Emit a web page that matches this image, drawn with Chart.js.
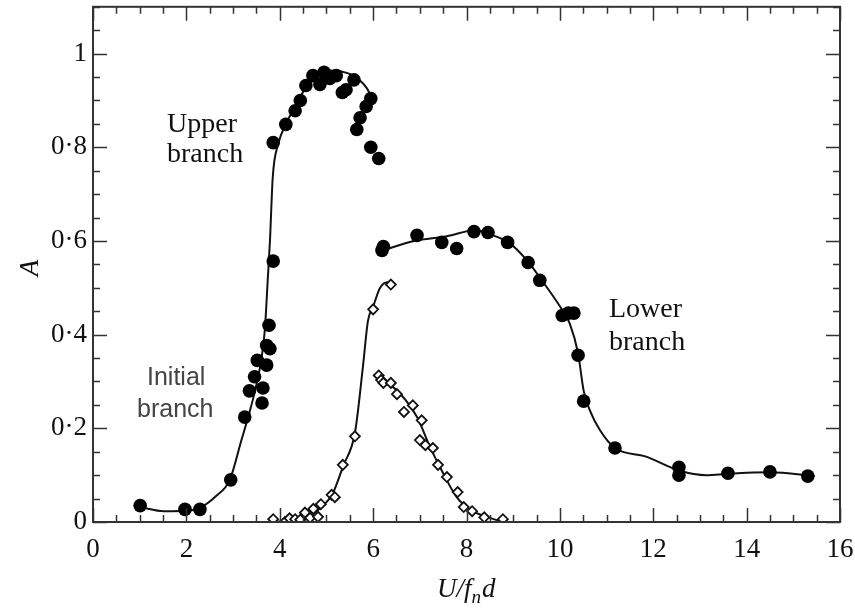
<!DOCTYPE html>
<html>
<head>
<meta charset="utf-8">
<script src="https://cdn.jsdelivr.net/npm/chart.js@4.4.1/dist/chart.umd.min.js"></script>
<style>
  body { margin: 0; background: #fff; }
</style>
</head>
<body>
<canvas id="chart" width="855" height="610"></canvas>
<script>
// tick labels
const xTicks = [0, 2, 4, 6, 8, 10, 12, 14, 16];
const yTicks = [0, 0.2, 0.4, 0.6, 0.8, 1];

// filled circles (initial, upper and lower branch)
const filledX = [1.01, 1.97, 2.29, 2.95, 3.25, 3.35, 3.46, 3.52, 3.62, 3.64, 3.72, 3.72, 3.79, 3.77, 3.86,
  3.86, 4.13, 4.33, 4.44, 4.56, 4.71, 4.86, 4.95, 5.07, 5.21, 5.34, 5.42, 5.59, 5.95, 5.85, 5.72, 5.65, 5.95, 6.12,
  6.19, 6.22, 6.94, 7.47, 7.79, 8.16, 8.46, 8.88, 9.32, 9.57, 10.05, 10.18, 10.30, 10.39, 10.51, 11.18,
  12.55, 12.55, 13.6, 14.5, 15.31];
const filledY = [0.035, 0.027, 0.027, 0.09, 0.224, 0.28, 0.31, 0.345, 0.254, 0.286, 0.335, 0.377, 0.37, 0.42, 0.557,
  0.81, 0.849, 0.878, 0.90, 0.932, 0.953, 0.934, 0.96, 0.947, 0.953, 0.917, 0.923, 0.944, 0.904, 0.887, 0.863, 0.838, 0.80, 0.776,
  0.58, 0.588, 0.612, 0.597, 0.584, 0.62, 0.618, 0.597, 0.554, 0.516, 0.441, 0.446, 0.446, 0.356, 0.258, 0.158,
  0.117, 0.1, 0.104, 0.107, 0.098];

// open diamonds
const diamondX = [3.86, 4.11, 4.21, 4.33, 4.44, 4.54, 4.65, 4.72, 4.82, 4.88, 5.11, 5.18, 5.35, 5.61, 6.0, 6.38,
  6.12, 6.17, 6.22, 6.38, 6.51, 6.85, 6.66, 7.04, 7.0, 7.12, 7.28, 7.39, 7.58, 7.81, 7.94, 8.12, 8.38, 8.78];
const diamondY = [0.006, 0.0, 0.008, 0.006, 0.005, 0.02, 0.009, 0.028, 0.011, 0.038, 0.058, 0.053, 0.122, 0.183, 0.454, 0.507,
  0.313, 0.303, 0.297, 0.297, 0.273, 0.249, 0.235, 0.217, 0.175, 0.164, 0.158, 0.122, 0.096, 0.064, 0.032, 0.023, 0.01, 0.006];

// hand-drawn curves
const upperCurveX = [1.01, 1.52, 2.02, 2.32, 2.63, 2.93, 3.18, 3.34, 3.47, 3.61, 3.68, 3.75, 3.79, 3.85, 3.97, 4.13, 4.4, 4.6, 4.8, 5.07, 5.31, 5.57, 5.86, 6.02];
const upperCurveY = [0.032, 0.023, 0.024, 0.032, 0.055, 0.09, 0.175, 0.23, 0.28, 0.35, 0.41, 0.53, 0.6, 0.736, 0.808, 0.849, 0.9, 0.935, 0.957, 0.964, 0.962, 0.953, 0.927, 0.895];
const lowerCurveX = [6.22, 6.87, 7.58, 8.19, 8.57, 8.93, 9.3, 9.57, 10.01, 10.21, 10.39, 10.51, 10.64, 10.86, 11.18, 11.83, 12.55, 13.14, 13.6, 14.5, 15.46];
const lowerCurveY = [0.58, 0.6, 0.61, 0.623, 0.612, 0.595, 0.558, 0.522, 0.459, 0.424, 0.36, 0.28, 0.239, 0.196, 0.158, 0.14, 0.11, 0.1, 0.103, 0.106, 0.098];
const riseCurveX = [3.86, 4.29, 4.65, 4.9, 5.14, 5.36, 5.61, 5.78, 5.89, 6.0, 6.15, 6.3, 6.38];
const riseCurveY = [0.0, 0.004, 0.015, 0.032, 0.062, 0.12, 0.19, 0.33, 0.43, 0.46, 0.5, 0.512, 0.507];
const fallCurveX = [6.08, 6.57, 6.94, 7.22, 7.5, 7.79, 8.08, 8.44, 8.78];
const fallCurveY = [0.313, 0.275, 0.224, 0.16, 0.104, 0.053, 0.026, 0.011, 0.0];

const zip = (xs, ys) => xs.map((x, i) => ({ x: x, y: ys[i] }));

const serif = "'Liberation Serif', 'Times New Roman', serif";
const sans = "'Liberation Sans', Arial, sans-serif";

const curveStyle = {
    showLine: true,
    borderColor: '#111',
    borderWidth: 2,
    pointRadius: 0,
    cubicInterpolationMode: 'monotone',
    order: 2
};

// frame, inward ticks, axis titles and notes
const framePlugin = {
    id: 'frame',
    afterDatasetsDraw(chart) {
        const ctx = chart.ctx;
        const a = chart.chartArea;
        const xs = chart.scales.x;
        const ys = chart.scales.y;
        ctx.save();
        ctx.strokeStyle = '#333';
        ctx.lineWidth = 2;
        ctx.strokeRect(a.left, a.top, a.right - a.left, a.bottom - a.top);

        ctx.lineWidth = 1.5;
        ctx.beginPath();
        for (let v = 0; v <= 16.001; v += 0.5) {
            const px = Math.round(xs.getPixelForValue(v)) + 0.5;
            const len = Math.abs(v % 2) < 0.01 ? 14 : 7;
            ctx.moveTo(px, a.bottom); ctx.lineTo(px, a.bottom - len);
            ctx.moveTo(px, a.top); ctx.lineTo(px, a.top + len);
        }
        for (let i = 0; i <= 22; i++) {
            const v = i * 0.05;
            const py = Math.round(ys.getPixelForValue(v)) + 0.5;
            const len = i % 4 === 0 ? 14 : 7;
            ctx.moveTo(a.left, py); ctx.lineTo(a.left + len, py);
            ctx.moveTo(a.right, py); ctx.lineTo(a.right - len, py);
        }
        ctx.stroke();

        ctx.fillStyle = '#111';
        ctx.textBaseline = 'alphabetic';
        ctx.textAlign = 'left';
        ctx.font = '28px ' + serif;
        ctx.fillText('Upper', 167, 132);
        ctx.fillText('branch', 167, 162);
        ctx.fillText('Lower', 609, 317);
        ctx.fillText('branch', 609, 350);

        ctx.fillStyle = '#444';
        ctx.font = '25px ' + sans;
        ctx.fillText('Initial', 147, 385);
        ctx.fillText('branch', 137, 417);

        // x title U/f_n d
        ctx.fillStyle = '#111';
        let x = 437;
        const base = 597;
        ctx.font = 'italic 27px ' + serif;
        ctx.fillText('U/f', x, base);
        x += ctx.measureText('U/f').width;
        ctx.font = 'italic 19px ' + serif;
        ctx.fillText('n', x, base + 6);
        x += ctx.measureText('n').width + 1;
        ctx.font = 'italic 27px ' + serif;
        ctx.fillText('d', x, base);

        // y title
        ctx.translate(38, 268);
        ctx.rotate(-Math.PI / 2);
        ctx.textAlign = 'center';
        ctx.fillText('A', 0, 0);
        ctx.restore();
    }
};

new Chart(document.getElementById('chart'), {
    type: 'scatter',
    data: {
        datasets: [
            {
                data: zip(filledX, filledY),
                pointStyle: 'circle',
                pointRadius: 6.8,
                pointBackgroundColor: '#000',
                pointBorderColor: '#000',
                pointBorderWidth: 0,
                order: 0
            },
            {
                data: zip(diamondX, diamondY),
                pointStyle: 'rectRot',
                pointRadius: 5,
                pointBackgroundColor: '#fff',
                pointBorderColor: '#111',
                pointBorderWidth: 1.8,
                order: 1
            },
            Object.assign({ data: zip(upperCurveX, upperCurveY) }, curveStyle),
            Object.assign({ data: zip(lowerCurveX, lowerCurveY) }, curveStyle),
            Object.assign({ data: zip(riseCurveX, riseCurveY) }, curveStyle),
            Object.assign({ data: zip(fallCurveX, fallCurveY) }, curveStyle)
        ]
    },
    options: {
        responsive: false,
        animation: false,
        layout: { padding: { left: 0, right: 15, top: 6, bottom: 0 } },
        plugins: {
            legend: { display: false },
            tooltip: { enabled: false }
        },
        scales: {
            x: {
                type: 'linear',
                min: 0,
                max: 16,
                grid: { display: false, drawTicks: false },
                border: { display: false },
                afterBuildTicks: (s) => { s.ticks = xTicks.map(v => ({ value: v })); },
                afterFit: (s) => { s.height = 88; s.paddingLeft = 0; s.paddingRight = 0; },
                ticks: {
                    padding: 12,
                    color: '#111',
                    maxRotation: 0,
                    font: { family: serif, size: 27 },
                    callback: (v) => String(v)
                }
            },
            y: {
                type: 'linear',
                min: 0,
                max: 1.1,
                grid: { display: false, drawTicks: false },
                border: { display: false },
                afterBuildTicks: (s) => { s.ticks = yTicks.map(v => ({ value: v })); },
                afterFit: (s) => { s.width = 93; s.paddingTop = 0; s.paddingBottom = 0; },
                ticks: {
                    padding: 6,
                    color: '#111',
                    font: { family: serif, size: 27 },
                    callback: (v) => String(v).replace('.', '·')
                }
            }
        }
    },
    plugins: [framePlugin]
});
</script>
</body>
</html>
